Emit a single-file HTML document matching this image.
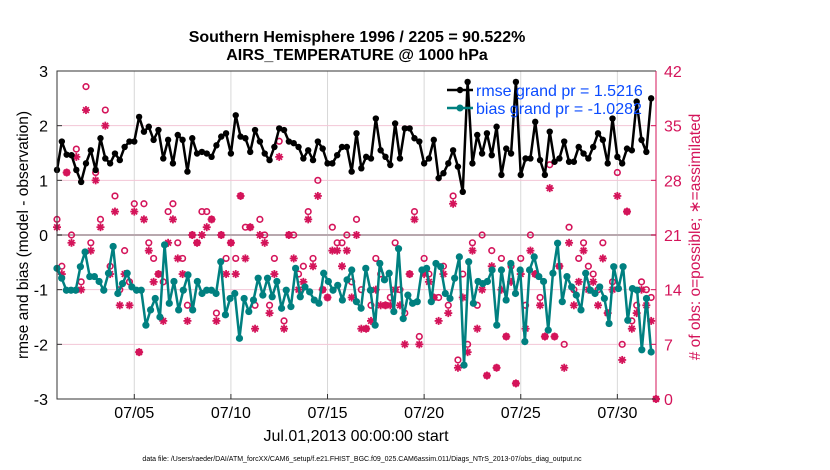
<!DOCTYPE html>
<html><head><meta charset="utf-8"><style>
body{margin:0;background:#fff;}
svg{display:block;font-family:"Liberation Sans",sans-serif;}
</style></head><body>
<svg id="c" width="830" height="470" viewBox="0 0 830 470">
<g id="grid"></g>
<g id="marks"></g>
<g id="axes"></g>
<text x="357" y="42" font-size="16" font-weight="bold" text-anchor="middle">Southern Hemisphere 1996 / 2205 = 90.522%</text>
<text x="357" y="60" font-size="16" font-weight="bold" text-anchor="middle">AIRS_TEMPERATURE @ 1000 hPa</text>
<text x="356" y="441" font-size="16" text-anchor="middle">Jul.01,2013 00:00:00 start</text>
<text x="362" y="461" font-size="7" text-anchor="middle">data file: /Users/raeder/DAI/ATM_forcXX/CAM6_setup/f.e21.FHIST_BGC.f09_025.CAM6assim.011/Diags_NTrS_2013-07/obs_diag_output.nc</text>
<text transform="translate(28,235) rotate(-90)" font-size="15.5" text-anchor="middle">rmse and bias (model - observation)</text>
<text transform="translate(700,237) rotate(-90)" font-size="15.5" fill="#d4145a" text-anchor="middle"># of obs: o=possible; ∗=assimilated</text>
<g>
<line x1="447" y1="90" x2="473" y2="90" stroke="#000" stroke-width="2.5"/>
<circle cx="460" cy="90" r="3.2" fill="#000"/>
<text x="476" y="96" font-size="16" fill="#0a4bff">rmse grand pr = 1.5216</text>
<line x1="447" y1="108" x2="473" y2="108" stroke="#008080" stroke-width="2.5"/>
<circle cx="460" cy="108" r="3.5" fill="#008080"/>
<text x="476" y="114" font-size="16" fill="#0a4bff">bias grand pr = -1.0282</text>
</g>
</svg>
<script>
const rmse=[1.19,1.71,1.47,1.46,1.19,0.97,1.31,1.55,1.19,1.77,1.40,1.31,1.49,1.37,1.61,1.71,1.71,2.16,1.89,1.98,1.74,1.92,1.40,1.74,1.31,1.83,1.74,1.16,1.77,1.49,1.52,1.49,1.43,1.64,1.80,1.86,1.49,2.19,1.80,1.77,1.52,1.92,1.71,1.49,1.37,1.61,1.95,1.92,1.71,1.68,1.61,1.40,1.55,1.37,1.71,1.58,1.31,1.31,1.46,1.61,1.61,1.16,
1.86,1.22,1.43,1.40,2.13,1.55,1.43,1.28,2.04,1.40,1.95,1.95,1.77,1.71,1.31,1.40,1.74,1.04,1.13,1.31,1.55,1.25,0.79,2.80,1.31,1.83,1.49,1.86,1.46,1.98,1.10,1.58,1.49,2.80,1.10,1.40,1.40,2.07,1.37,1.10,1.89,1.34,1.40,1.71,1.34,1.34,1.61,1.49,1.40,1.61,1.86,1.74,1.31,2.13,1.43,1.31,1.58,1.55,2.44,1.74,1.52,2.50];
const biasZ=[625,655,690,690,690,620,575,650,650,665,690,640,560,700,670,640,680,690,690,795,750,715,770,555,730,665,750,690,645,750,665,700,690,690,700,605,765,715,700,835,715,755,720,655,705,655,710,665,745,690,740,625,710,680,695,720,730,640,665,690,675,720,
660,630,725,745,625,690,795,610,660,640,755,565,775,705,730,725,630,625,725,610,620,700,715,655,590,915,605,730,665,670,665,630,795,630,720,610,700,630,845,630,590,650,665,810,640,550,725,650,680,705,750,640,690,700,680,715,790,620,685,620,780,685,690,870,715,875];
const bias=biasZ.map(z=>Math.round((3.2-z/164)*100)/100);
const possible=[23,17,29,21,32,15,40,20,29,23,37,17,26,14,19,15,25,6,25,20,18,16,15,24,25,20,18,12,21,20,24,24,23,11,21,18,20,18,26,22,22,12,23,21,12,18,33,10,21,21,16,17,24,18,28,14,13,22,20,20,21,15,23,14,
9,12,18,16,12,13,20,14,11,16,24,8,18,16,13,13,17,12,26,5,16,7,20,12,21,3,19,4,18,8,17,2,18,12,21,16,13,8,30,8,17,7,22,14,18,20,17,16,14,20,11,15,29,7,24,10,12,15,14,13,0];
const assimilated=[22,16,29,20,31,14,37,19,28,22,35,16,24,12,16,12,24,6,23,19,15,16,10,20,23,18,16,10,21,20,21,22,23,10,21,16,20,16,26,18,22,9,21,20,11,16,31,9,21,18,14,15,23,17,26,14,13,19,19,17,19,13,21,9,
9,10,14,12,12,12,14,12,7,16,23,7,16,15,13,10,16,11,25,4,13,6,19,9,14,3,17,4,14,8,15,2,16,9,19,16,12,8,27,8,17,4,20,12,15,19,14,15,12,18,11,14,26,5,24,9,11,14,12,10,0];
const xTicks=[4,9,14,19,24,29];
const xTickLabels=["07/05","07/10","07/15","07/20","07/25","07/30"];
const yTicks=[-3,-2,-1,0,1,2,3];
const rTicks=[0,7,14,21,28,35,42];

const L=57,R=656,T=71,B=399;
const xs=d=>L+d*(R-L)/31;
const ys=v=>B-(v+3)*(B-T)/6;
const yr=n=>B-n*(B-T)/42;
const NS="http://www.w3.org/2000/svg";
function mk(p,tag,a){const e=document.createElementNS(NS,tag);for(const k in a)e.setAttribute(k,a[k]);p.appendChild(e);return e;}
const grid=document.getElementById('grid'),marks=document.getElementById('marks'),axes=document.getElementById('axes');
xTicks.forEach((d,i)=>{
 const g=mk(grid,'line',{x1:xs(d),x2:xs(d),y1:T,y2:B,stroke:'#d8d8d8','stroke-width':1});
 
 
 const t=mk(axes,'text',{x:xs(d),y:B+19,'font-size':16,'text-anchor':'middle'});t.textContent=xTickLabels[i];
 
 
 mk(axes,'line',{x1:xs(d),x2:xs(d),y1:B,y2:B-5,stroke:'#333'});
});
rTicks.forEach(n=>{
 if(n>0&&n<42){const g=mk(grid,'line',{x1:L,x2:R,y1:yr(n),y2:yr(n),stroke:'#f3c6d6','stroke-width':1});
 
 }
 const t=mk(axes,'text',{x:R+8,y:yr(n)+6,'font-size':16,fill:'#d4145a'});t.textContent=n;
 
 
 mk(axes,'line',{x1:R,x2:R-5,y1:yr(n),y2:yr(n),stroke:'#d4145a'});
});
yTicks.forEach(v=>{
 const t=mk(axes,'text',{x:L-9,y:ys(v)+6,'font-size':16,'text-anchor':'end'});t.textContent=v;
 
 
 mk(axes,'line',{x1:L,x2:L+5,y1:ys(v),y2:ys(v),stroke:'#333'});
});
const zl=mk(grid,'line',{x1:L,x2:R,y1:ys(0),y2:ys(0),stroke:'#b8a8ae','stroke-width':2});


const ax=mk(axes,'path',{d:`M${R},${T}H${L}V${B}H${R}`,fill:'none',stroke:'#333','stroke-width':1});


const ra=mk(axes,'line',{x1:R,x2:R,y1:T,y2:B,stroke:'#d4145a','stroke-width':1});



function star(cx,cy){const g=mk(marks,'g',{stroke:'#d4145a','stroke-width':1.8});
 for(let a=0;a<4;a++){const an=a*Math.PI/4,dx=4*Math.cos(an),dy=4*Math.sin(an);mk(g,'line',{x1:cx-dx,y1:cy-dy,x2:cx+dx,y2:cy+dy});}
 return g;}
const nO=possible.length;
possible.forEach((n,i)=>{
 const d=i*31/(nO-1);
 const c=mk(marks,'circle',{cx:xs(d),cy:yr(n),r:2.8,fill:'none',stroke:'#d4145a','stroke-width':1.6});
 
 
});
assimilated.forEach((n,i)=>{
 const d=i*31/(nO-1);
 const s=star(xs(d),yr(n));
 
 
});
function series(vals,color,r,name){
 const n=vals.length;
 const pts=vals.map((v,i)=>[xs(i*30.75/(n-1)),ys(v)]);
 const p=mk(marks,'polyline',{points:pts.map(p=>p.join(',')).join(' '),fill:'none',stroke:color,'stroke-width':2.5,'stroke-linejoin':'round'});
 
 
 pts.forEach(q=>{const c=mk(marks,'circle',{cx:q[0],cy:q[1],r:r,fill:color});
 
 });
}
series(rmse,'#000',3.2,'rmse');
series(bias,'#008080',3.6,'bias');
</script>
</body></html>
